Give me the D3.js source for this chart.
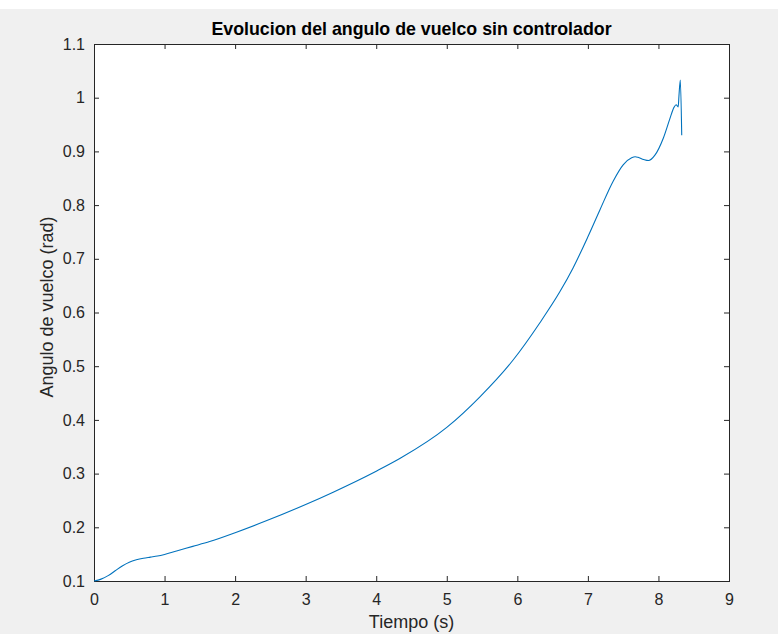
<!DOCTYPE html>
<html>
<head>
<meta charset="utf-8">
<script src="https://cdn.jsdelivr.net/npm/d3@7"></script>
<style>
  html, body { margin: 0; padding: 0; background: #f0f0f0; }
  svg { display: block; }
  text { font-family: "Liberation Sans", Arial, Helvetica, sans-serif; fill: #262626; }
</style>
</head>
<body>
<script>
// Data
const timeS = [0, 0.1, 0.2, 0.3, 0.4, 0.5, 0.6, 0.7, 0.8, 0.9, 1.0, 1.17, 1.4, 1.64, 2.0, 2.45, 3.0, 3.39, 4.0, 4.34, 5.0, 5.47, 5.94, 6.32, 6.6, 6.79, 7.0, 7.17, 7.36, 7.5, 7.62, 7.67, 7.71, 7.79, 7.86, 7.95, 8.07, 8.16, 8.22, 8.25, 8.28, 8.29, 8.31, 8.33];
const angleRad = [0.1, 0.1035, 0.110, 0.119, 0.128, 0.135, 0.1395, 0.1425, 0.1445, 0.1465, 0.1495, 0.156, 0.1645, 0.1735, 0.190, 0.2125, 0.2425, 0.2655, 0.3045, 0.3285, 0.386, 0.443, 0.5115, 0.581, 0.638, 0.683, 0.741, 0.791, 0.845, 0.875, 0.888, 0.890, 0.889, 0.885, 0.883, 0.893, 0.925, 0.960, 0.982, 0.987, 0.983, 1.002, 1.033, 0.930];
const xTicks = [0, 1, 2, 3, 4, 5, 6, 7, 8, 9];
const yTicks = [0.1, 0.2, 0.3, 0.4, 0.5, 0.6, 0.7, 0.8, 0.9, 1, 1.1];
const titleText = "Evolucion del angulo de vuelco sin controlador";
const xLabelText = "Tiempo (s)";
const yLabelText = "Angulo de vuelco (rad)";

const W = 778, H = 634;
const m = { left: 94, right: 729, top: 44, bottom: 581 };

const svg = d3.select("body").append("svg").attr("width", W).attr("height", H);
svg.append("rect").attr("x", 0).attr("y", 0).attr("width", W).attr("height", H).attr("fill", "#f0f0f0");
svg.append("rect").attr("x", 0).attr("y", 0).attr("width", W).attr("height", 9).attr("fill", "#ffffff");

const x = d3.scaleLinear().domain([0, 9]).range([m.left, m.right]);
const y = d3.scaleLinear().domain([0.1, 1.1]).range([m.bottom, m.top]);

svg.append("rect").attr("x", m.left).attr("y", m.top)
  .attr("width", m.right - m.left).attr("height", m.bottom - m.top)
  .attr("fill", "#ffffff");

const fmt = d => String(+d.toFixed(1));
const axisColor = "#262626";

function style(g) {
  g.select(".domain").remove();
  g.selectAll(".tick line").attr("stroke", axisColor).attr("stroke-width", 1);
  g.selectAll(".tick text").attr("font-size", "16px").attr("fill", axisColor)
    .style("font-family", "'Liberation Sans', Arial, sans-serif");
}

// bottom axis (ticks inward)
svg.append("g").attr("transform", `translate(0,${m.bottom})`)
  .call(d3.axisBottom(x).tickValues(xTicks).tickFormat(fmt).tickSizeInner(-5).tickSizeOuter(0).tickPadding(13))
  .call(style);
// top axis ticks only
svg.append("g").attr("transform", `translate(0,${m.top})`)
  .call(d3.axisTop(x).tickValues(xTicks).tickFormat("").tickSizeInner(-5).tickSizeOuter(0))
  .call(style);
// left axis
svg.append("g").attr("transform", `translate(${m.left},0)`)
  .call(d3.axisLeft(y).tickValues(yTicks).tickFormat(fmt).tickSizeInner(-5).tickSizeOuter(0).tickPadding(9))
  .call(style);
// right axis ticks only
svg.append("g").attr("transform", `translate(${m.right},0)`)
  .call(d3.axisRight(y).tickValues(yTicks).tickFormat("").tickSizeInner(-5).tickSizeOuter(0))
  .call(style);

// box
svg.append("rect").attr("x", m.left + 0.5).attr("y", m.top + 0.5)
  .attr("width", m.right - m.left).attr("height", m.bottom - m.top)
  .attr("fill", "none").attr("stroke", axisColor).attr("stroke-width", 1);

// line
const pts = timeS.map((t, i) => [t, angleRad[i]]);
const line = d3.line().x(d => x(d[0])).y(d => y(d[1])).curve(d3.curveMonotoneX);
svg.append("path").datum(pts).attr("d", line)
  .attr("fill", "none").attr("stroke", "#0072BD").attr("stroke-width", 1.1);

// title & labels
svg.append("text").attr("x", (m.left + m.right) / 2).attr("y", 35)
  .attr("text-anchor", "middle").attr("font-size", "17.8px").attr("font-weight", "bold")
  .style("fill", "#000").text(titleText);
svg.append("text").attr("x", (m.left + m.right) / 2).attr("y", 628)
  .attr("text-anchor", "middle").attr("font-size", "18px").text(xLabelText);
svg.append("text").attr("transform", `translate(52.5,307) rotate(-90)`)
  .attr("text-anchor", "middle").attr("font-size", "18px").text(yLabelText);
</script>
</body>
</html>
